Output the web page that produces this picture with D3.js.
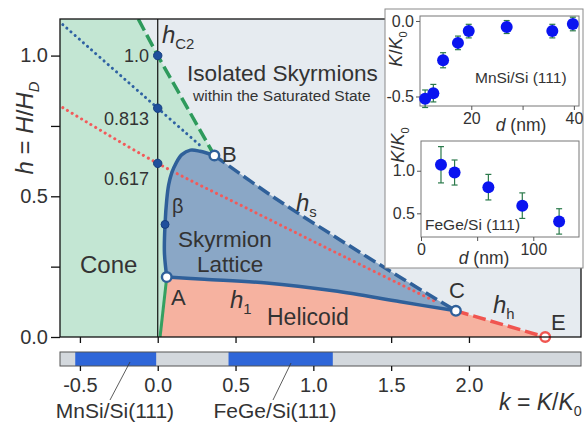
<!DOCTYPE html>
<html>
<head>
<meta charset="utf-8">
<script src="https://cdn.jsdelivr.net/npm/d3@7"></script>
<style>
body { margin: 0; background: #fff; }
text { font-family: "Liberation Sans", Arial, sans-serif; fill: #333; }
</style>
</head>
<body>
<div id="chart"></div>
<script>
let width = 587, height = 425;

// phase boundaries as [k, h] pairs
let hC2 = [[-0.125, 1.13], [0, 1.0], [0.364, 0.645]];
let latticeEdge = [[0.058, 0.213], [0.043, 0.30], [0.047, 0.40], [0.058, 0.488], [0.07, 0.54],
    [0.09, 0.583], [0.118, 0.618], [0.155, 0.648], [0.21, 0.664], [0.272, 0.66], [0.364, 0.645]];
let hS = [[0.364, 0.645], [0.75, 0.495], [1.172, 0.345], [1.55, 0.215], [1.916, 0.093]];
let h1 = [[0.058, 0.213], [0.3, 0.205], [0.7, 0.192], [1.13, 0.164], [1.56, 0.125], [1.916, 0.093]];
let hH = [[1.916, 0.093], [2.49, 0]];
let coneEdge = [[0.015, 0], [0.058, 0.213]];
let blueDotted = [[-0.61, 1.11], [0, 0.813], [0.29, 0.672]];
let redDotted = [[-0.61, 0.815], [0, 0.617], [0.6, 0.45], [1.2, 0.285], [1.8, 0.122]];
let axisDots = [1.0, 0.813, 0.617];
let axisDotLabels = ["1.0", "0.813", "0.617"];
let betaPoint = [0.047, 0.40];
let openNames = ["A", "B", "C", "E"];
let openK = [0.058, 0.364, 1.916, 2.49];
let openH = [0.213, 0.645, 0.093, 0];

let kTicks = [-0.5, 0, 0.5, 1, 1.5, 2];
let hTicks = [0, 0.25, 0.5, 0.75, 1];
let filmNames = ["MnSi/Si(111)", "FeGe/Si(111)"];
let filmFrom = [-0.53, 0.455];
let filmTo = [-0.01, 1.125];

// inset data
let mnsiD = [11.0, 12.6, 14.5, 17.4, 19.5, 26.9, 35.8, 39.8];
let mnsiK = [-0.515, -0.478, -0.26, -0.145, -0.067, -0.04, -0.067, -0.02];
let mnsiErr = [0.058, 0.058, 0.05, 0.045, 0.045, 0.043, 0.045, 0.045];
let fegeD = [17.8, 29.9, 60, 90.2, 123];
let fegeK = [1.07, 0.979, 0.807, 0.59, 0.405];
let fegeErr = [0.213, 0.147, 0.15, 0.15, 0.149];

let svg = d3.select("#chart").append("svg")
    .attr("width", width)
    .attr("height", height);

let x = d3.scaleLinear().domain([-0.628, 2.72]).range([60, 581]);
let y = d3.scaleLinear().domain([0, 1.13]).range([337, 19]);

function seg(pts, curve) {
    return d3.line().x(d => x(d[0])).y(d => y(d[1])).curve(curve || d3.curveLinear)(pts);
}
// glue several open paths into one closed shape
function shape(...paths) {
    return paths.map((p, i) => i ? p.replace(/^M/, "L") : p).join("") + "Z";
}
let rev = a => a.slice().reverse();
let cr = d3.curveCatmullRom;

svg.append("clipPath").attr("id", "plot")
    .append("rect").attr("x", 60).attr("y", 19).attr("width", 521).attr("height", 318);

let plot = svg.append("g").attr("clip-path", "url(#plot)");

// regions
plot.append("rect").attr("x", 60).attr("y", 19).attr("width", 521).attr("height", 318)
    .attr("fill", "#e6ebf0");

let xmin = x.domain()[0], hmax = y.domain()[1];
plot.append("path")
    .attr("d", shape(seg([[xmin, hmax], hC2[0]]), seg(hC2), seg(rev(latticeEdge), cr),
        seg(rev(coneEdge)), seg([[coneEdge[0][0], 0], [xmin, 0]])))
    .attr("fill", "#c3e6d3");

plot.append("path")
    .attr("d", shape(seg(latticeEdge, cr), seg(hS, cr), seg(rev(h1), cr)))
    .attr("fill", "#8aa7c6");

plot.append("path")
    .attr("d", shape(seg(coneEdge), seg(h1, cr), seg(hH)))
    .attr("fill", "#f6b2a0");

// k = 0 line
plot.append("line")
    .attr("x1", x(0)).attr("x2", x(0)).attr("y1", 19).attr("y2", 337)
    .attr("stroke", "#111").attr("stroke-width", 1.2);

// dotted guide lines
plot.append("path").attr("d", seg(blueDotted, cr))
    .attr("fill", "none").attr("stroke", "#2f62a3").attr("stroke-width", 3)
    .attr("stroke-linecap", "round").attr("stroke-dasharray", "0.1,5.4");
plot.append("path").attr("d", seg(redDotted, cr))
    .attr("fill", "none").attr("stroke", "#f25a5a").attr("stroke-width", 3)
    .attr("stroke-linecap", "round").attr("stroke-dasharray", "0.1,5.4");

// boundaries
plot.append("path").attr("d", seg(coneEdge))
    .attr("fill", "none").attr("stroke", "#35a060").attr("stroke-width", 3);
plot.append("path").attr("d", seg(hC2))
    .attr("fill", "none").attr("stroke", "#2e9a5c").attr("stroke-width", 3.5)
    .attr("stroke-dasharray", "13,5");
plot.append("path").attr("d", seg(latticeEdge, cr))
    .attr("fill", "none").attr("stroke", "#2f609a").attr("stroke-width", 3.5);
plot.append("path").attr("d", seg(h1, cr))
    .attr("fill", "none").attr("stroke", "#2f609a").attr("stroke-width", 3.5);
plot.append("path").attr("d", seg(hS, cr))
    .attr("fill", "none").attr("stroke", "#2f609a").attr("stroke-width", 3.5)
    .attr("stroke-dasharray", "13,5");
plot.append("path").attr("d", seg(hH))
    .attr("fill", "none").attr("stroke", "#f05550").attr("stroke-width", 3.5)
    .attr("stroke-dasharray", "13,5");

// filled dots on k = 0 and beta
svg.selectAll(".adot").data(axisDots).enter().append("circle")
    .attr("cx", x(0)).attr("cy", d => y(d)).attr("r", 4.2)
    .attr("fill", "#1f4f9c").attr("stroke", "#163f80").attr("stroke-width", 1);
svg.append("circle").attr("cx", x(betaPoint[0])).attr("cy", y(betaPoint[1])).attr("r", 4)
    .attr("fill", "#1f4f9c").attr("stroke", "#163f80").attr("stroke-width", 1);

// open circles
svg.selectAll(".open").data(openNames).enter().append("circle")
    .attr("cx", (d, i) => x(openK[i])).attr("cy", (d, i) => y(openH[i])).attr("r", 4.8)
    .attr("fill", "#fff")
    .attr("stroke", d => d === "E" ? "#f05550" : "#2f609a").attr("stroke-width", 2.4);

// frame and axes
svg.append("rect").attr("x", 60).attr("y", 19).attr("width", 521).attr("height", 318)
    .attr("fill", "none").attr("stroke", "#111").attr("stroke-width", 1.3);

let yAxis = svg.append("g").attr("transform", "translate(60,0)")
    .call(d3.axisLeft(y).tickValues(hTicks).tickSize(9).tickPadding(3)
        .tickFormat(d => d % 0.5 === 0 ? d.toFixed(1) : ""));
yAxis.select(".domain").remove();
yAxis.selectAll("text").style("font-size", "20px").style("font-family", "Liberation Sans, Arial, sans-serif").attr("fill", "#333");
yAxis.selectAll("line").attr("stroke", "#111").attr("stroke-width", 1.3);

let xAxis = svg.append("g").attr("transform", "translate(0,337)")
    .call(d3.axisBottom(x).tickValues(kTicks).tickSize(6).tickFormat(""));
xAxis.select(".domain").remove();
xAxis.selectAll("line").attr("stroke", "#111").attr("stroke-width", 1.3);

// film bar
svg.append("rect").attr("x", 60).attr("y", 352).attr("width", 521).attr("height", 14)
    .attr("fill", "#d3d8dd");
svg.selectAll(".film").data(filmNames).enter().append("rect")
    .attr("x", (d, i) => x(filmFrom[i])).attr("y", 352)
    .attr("width", (d, i) => x(filmTo[i]) - x(filmFrom[i])).attr("height", 14)
    .attr("fill", "#2f66d8");
svg.append("rect").attr("x", 60).attr("y", 352).attr("width", 521).attr("height", 14)
    .attr("fill", "none").attr("stroke", "#555").attr("stroke-width", 1);

let barAxis = svg.append("g").attr("transform", "translate(0,366)")
    .call(d3.axisBottom(x).tickValues(kTicks).tickSize(5).tickPadding(7)
        .tickFormat(d => d.toFixed(1)));
barAxis.select(".domain").remove();
barAxis.selectAll("text").style("font-size", "20px").style("font-family", "Liberation Sans, Arial, sans-serif").attr("fill", "#333");
barAxis.selectAll("line").attr("stroke", "#111").attr("stroke-width", 1.3);

// film labels and leaders
let leadTop = [[130, 362], [291, 363]];
let leadBottom = [[110, 400], [273, 400]];
let labelX = [115, 275];
filmNames.forEach((name, i) => {
    svg.append("line")
        .attr("x1", leadTop[i][0]).attr("y1", leadTop[i][1])
        .attr("x2", leadBottom[i][0]).attr("y2", leadBottom[i][1])
        .attr("stroke", "#333").attr("stroke-width", 0.8);
    svg.append("text").attr("x", labelX[i]).attr("y", 418)
        .attr("text-anchor", "middle").style("font-size", "21px").text(name);
});

// labels on the main plot
function label(xp, yp, size, parts, anchor) {
    let t = svg.append("text").attr("x", xp).attr("y", yp)
        .style("font-size", size + "px").attr("text-anchor", anchor || "start");
    parts.forEach(p => {
        let s = t.append("tspan").text(p.t);
        if (p.i) s.style("font-style", "italic");
        if (p.sub) s.style("font-size", (size * 0.62) + "px").attr("dy", size * 0.25);
        if (p.dx) s.attr("dx", p.dx);
    });
    return t;
}

label(162, 43, 24, [{t: "h", i: 1}, {t: "C2", sub: 1}]);
axisDotLabels.forEach((l, i) => {
    let yy = [62, 125, 185][i];
    label(149, yy, 18, [{t: l}], "end");
});
label(172, 213, 20, [{t: "β"}]);
label(187, 81, 22.6, [{t: "Isolated Skyrmions"}]);
label(193, 101, 15.5, [{t: "within  the Saturated State"}]);
label(222, 162, 22, [{t: "B"}]);
label(296, 211, 24, [{t: "h", i: 1}, {t: "s", sub: 1}]);
label(178, 247, 22.5, [{t: "Skyrmion"}]);
label(197, 272, 22.5, [{t: "Lattice"}]);
label(80, 273, 24, [{t: "Cone"}]);
label(171, 305, 22, [{t: "A"}]);
label(230, 308, 24, [{t: "h", i: 1}, {t: "1", sub: 1}]);
label(267, 325, 23, [{t: "Helicoid"}]);
label(449, 298, 22, [{t: "C"}]);
label(493, 313, 24, [{t: "h", i: 1}, {t: "h", sub: 1}]);
label(551, 330, 22, [{t: "E"}]);

label(499, 410, 23, [{t: "k", i: 1}, {t: " = "}, {t: "K", i: 1}, {t: "/"}, {t: "K", i: 1}, {t: "0", sub: 1}]);
label(0, 0, 24, [{t: "h", i: 1}, {t: " = "}, {t: "H", i: 1}, {t: "/"}, {t: "H", i: 1}, {t: "D", i: 1, sub: 1}], "middle")
    .attr("transform", "translate(33,128) rotate(-90)");

// inset panel
svg.append("rect").attr("x", 385).attr("y", 9).attr("width", 198).attr("height", 259)
    .attr("fill", "#fff").attr("stroke", "#8a8a8a").attr("stroke-width", 1);

function inset(xs, ys, dv, kv, ev, xt, yt, xfmt) {
    let g = svg.append("g");
    let [x0, x1] = xs.range(), [y0, y1] = ys.range();
    g.append("rect").attr("x", x0).attr("y", y1).attr("width", x1 - x0).attr("height", y0 - y1)
        .attr("fill", "#fff").attr("stroke", "#777").attr("stroke-width", 1);
    let ax = g.append("g").attr("transform", `translate(${x0},0)`)
        .call(d3.axisLeft(ys).tickValues(yt).tickSize(4).tickPadding(2).tickFormat(d => d.toFixed(1)));
    let bx = g.append("g").attr("transform", `translate(0,${y0})`)
        .call(d3.axisBottom(xs).tickValues(xt).tickSize(4).tickPadding(3).tickFormat(xfmt));
    [ax, bx].forEach(a => {
        a.select(".domain").remove();
        a.selectAll("line").attr("stroke", "#555");
        a.selectAll("text").style("font-size", "16px").style("font-family", "Liberation Sans, Arial, sans-serif").attr("fill", "#333");
    });
    dv.forEach((d, i) => {
        let cx = xs(d);
        g.append("line").attr("x1", cx).attr("x2", cx)
            .attr("y1", ys(kv[i] - ev[i])).attr("y2", ys(kv[i] + ev[i]))
            .attr("stroke", "#2b7a4b").attr("stroke-width", 1.2);
        [kv[i] - ev[i], kv[i] + ev[i]].forEach(v => {
            g.append("line").attr("x1", cx - 3).attr("x2", cx + 3)
                .attr("y1", ys(v)).attr("y2", ys(v))
                .attr("stroke", "#2b7a4b").attr("stroke-width", 1.2);
        });
        g.append("circle").attr("cx", cx).attr("cy", ys(kv[i])).attr("r", 6)
            .attr("fill", "#0a14f0");
    });
    return g;
}

let xi1 = d3.scaleLinear().domain([10, 41]).range([420, 579]);
let yi1 = d3.scaleLinear().domain([-0.563, 0.033]).range([106, 16]);
inset(xi1, yi1, mnsiD, mnsiK, mnsiErr, [20, 30, 40], [0, -0.5], d => d === 30 ? "" : d);

let xi2 = d3.scaleLinear().domain([0, 140.7]).range([421, 579]);
let yi2 = d3.scaleLinear().domain([0.222, 1.349]).range([237, 141]);
inset(xi2, yi2, fegeD, fegeK, fegeErr, [0, 50, 100], [0.5, 1.0], d => d === 50 ? "" : d);

label(475, 83, 15.5, [{t: "MnSi/Si (111)"}]);
label(425, 230, 15.5, [{t: "FeGe/Si (111)"}]);
label(521, 131, 17.5, [{t: "d", i: 1}, {t: " (nm)"}], "middle");
label(484, 264, 17.5, [{t: "d", i: 1}, {t: " (nm)"}], "middle");
label(0, 0, 18, [{t: "K", i: 1}, {t: "/"}, {t: "K", i: 1}, {t: "0", sub: 1}], "middle")
    .attr("transform", "translate(402,49) rotate(-90)");
label(0, 0, 18, [{t: "K", i: 1}, {t: "/"}, {t: "K", i: 1}, {t: "0", sub: 1}], "middle")
    .attr("transform", "translate(404,145) rotate(-90)");
</script>
</body>
</html>
